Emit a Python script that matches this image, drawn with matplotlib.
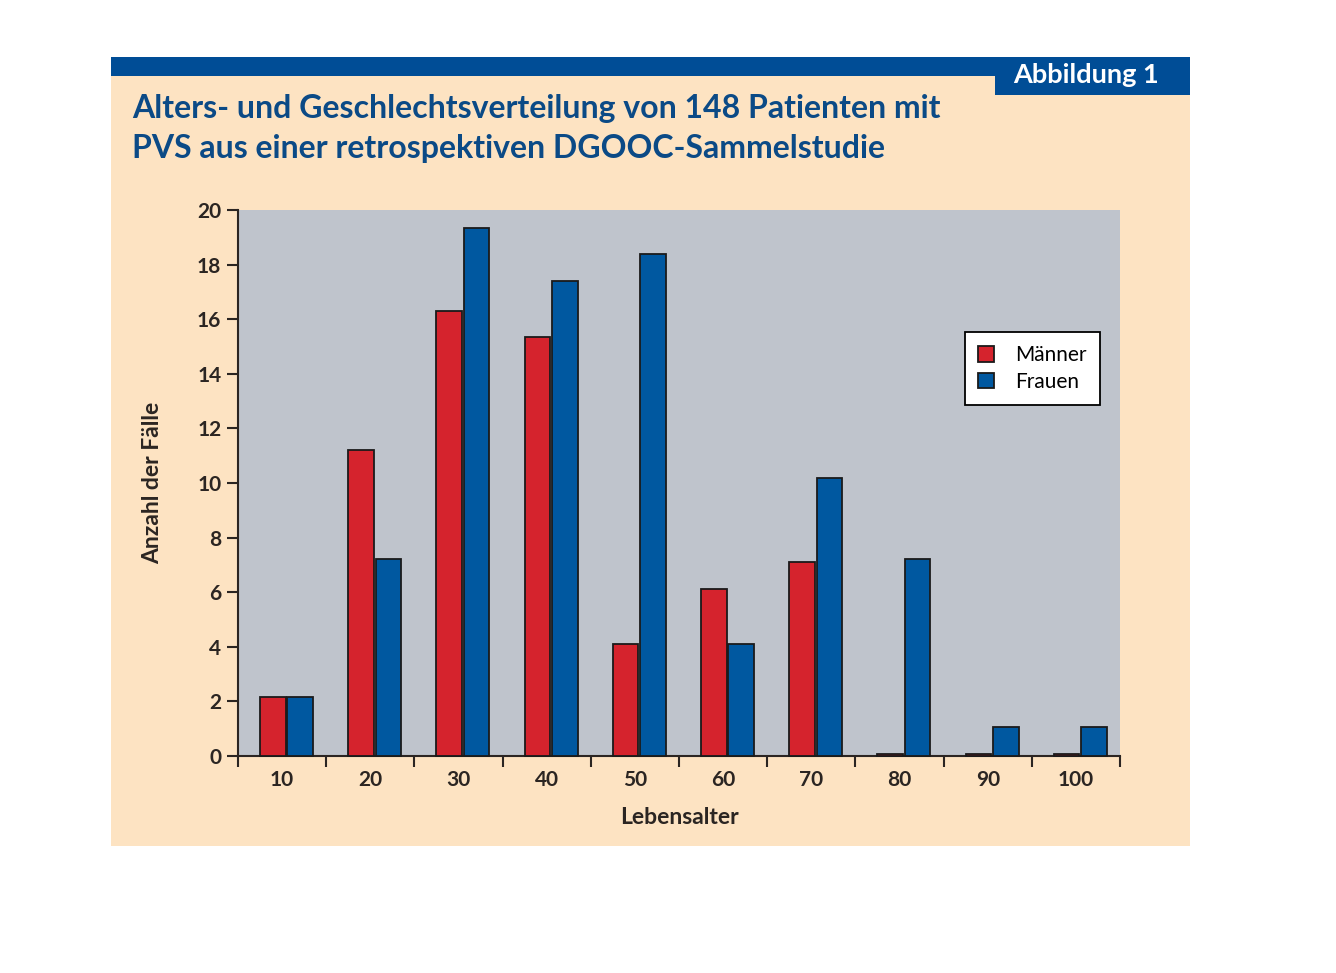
import numpy as np
import matplotlib.pyplot as plt
from matplotlib.patches import Rectangle

# Altersgruppen und Fallzahlen
altersgruppen = ["10", "20", "30", "40", "50", "60", "70", "80", "90", "100"]
maenner = [2.15, 11.2, 16.3, 15.35, 4.1, 6.1, 7.1, 0.08, 0.08, 0.08]
frauen = [2.15, 7.2, 19.35, 17.4, 18.4, 4.1, 10.2, 7.2, 1.05, 1.05]
y_ticks = [0, 2, 4, 6, 8, 10, 12, 14, 16, 18, 20]

titel_zeilen = ["Alters- und Geschlechtsverteilung von 148 Patienten mit",
                "PVS aus einer retrospektiven DGOOC-Sammelstudie"]

BEIGE = "#fde3c2"
DUNKELBLAU = "#004d96"
TITELBLAU = "#0b4a86"
ROT = "#d5232d"
BLAU = "#0058a0"
GRAU = "#bfc4cc"
TEXT = "#2b2522"

plt.rcParams['font.family'] = ['Lato', 'DejaVu Sans']

fig = plt.figure(figsize=(13.36, 9.73), dpi=100)
fig.patch.set_facecolor("white")

W, H = 1336, 973
def fx(px):
    return px / W
def fy(py):
    return 1 - py / H

# beige Hintergrundtafel, blauer Balken oben und Reiter
fig.patches.append(Rectangle((fx(111), fy(846)), fx(1190) - fx(111), fy(57) - fy(846),
                             transform=fig.transFigure, facecolor=BEIGE, edgecolor="none", zorder=-2))
fig.patches.append(Rectangle((fx(111), fy(76)), fx(1190) - fx(111), fy(57) - fy(76),
                             transform=fig.transFigure, facecolor=DUNKELBLAU, edgecolor="none", zorder=-1))
fig.patches.append(Rectangle((fx(995), fy(95)), fx(1190) - fx(995), fy(57) - fy(95),
                             transform=fig.transFigure, facecolor=DUNKELBLAU, edgecolor="none", zorder=-1))
fig.text(fx(1086), fy(75), "Abbildung 1", color="white", fontsize=19.5, fontweight="bold",
         ha="center", va="center", zorder=2)

for i, zeile in enumerate(titel_zeilen):
    fig.text(fx(132), fy(118 + 40 * i), zeile, color=TITELBLAU, fontsize=23,
             fontweight="bold", ha="left", va="baseline", zorder=2)

ax = fig.add_axes([fx(238), fy(756), fx(1120) - fx(238), fy(210) - fy(756)])
ax.set_zorder(3)
ax.set_facecolor(GRAU)

x = np.arange(len(altersgruppen))
breite = 0.29
ax.bar(x - 0.105, maenner, breite, color=ROT, edgecolor="#1a1a1a", linewidth=1.3,
       label="Männer", zorder=3, clip_on=False)
ax.bar(x + 0.205, frauen, breite, color=BLAU, edgecolor="#1a1a1a", linewidth=1.3,
       label="Frauen", zorder=3, clip_on=False)

ax.set_xlim(-0.5, len(altersgruppen) - 0.5)
ax.set_ylim(0, 20)

ax.set_yticks(y_ticks)
ax.set_xticks(np.arange(-0.5, len(altersgruppen), 1.0))
ax.set_xticklabels([])
ax.set_xticks(x, minor=True)
ax.set_xticklabels(altersgruppen, minor=True)
ax.tick_params(axis="x", which="minor", length=0, pad=10)
ax.tick_params(axis="both", which="major", direction="out", length=8, width=1.5,
               color=TEXT)
ax.tick_params(axis="y", pad=4)
ax.tick_params(axis="both", which="both", labelsize=15, labelcolor=TEXT)
for lab in ax.get_yticklabels() + ax.get_xticklabels(minor=True):
    lab.set_fontweight("bold")

for s in ["top", "right"]:
    ax.spines[s].set_visible(False)
for s in ["left", "bottom"]:
    ax.spines[s].set_color(TEXT)
    ax.spines[s].set_linewidth(1.5)

ax.set_xlabel("Lebensalter", fontsize=16.5, fontweight="bold", color=TEXT, labelpad=12)
ax.set_ylabel("Anzahl der Fälle", fontsize=16.5, fontweight="bold", color=TEXT, labelpad=24)

leg = ax.legend(loc="upper left", bbox_to_anchor=(0.824, 0.777), borderaxespad=0,
                fontsize=15, frameon=True, fancybox=False, edgecolor="black",
                framealpha=1, handlelength=0.75, handleheight=0.75, borderpad=0.65,
                labelspacing=0.3, handletextpad=1.0)
leg.get_frame().set_linewidth(1.3)
leg.set_zorder(5)

fig.savefig("out.png", dpi=100, facecolor=fig.get_facecolor())
